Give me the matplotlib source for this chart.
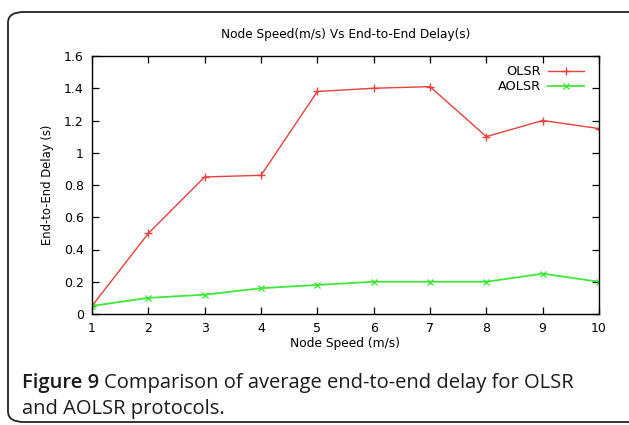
import matplotlib

matplotlib.use("Agg")
import matplotlib.pyplot as plt
from matplotlib.patches import FancyBboxPatch

plt.rcParams["font.family"] = ["DejaVu Sans"]

speed = [1, 2, 3, 4, 5, 6, 7, 8, 9, 10]
olsr = [0.05, 0.50, 0.85, 0.86, 1.38, 1.40, 1.41, 1.10, 1.20, 1.15]
aolsr = [0.05, 0.10, 0.12, 0.16, 0.18, 0.20, 0.20, 0.20, 0.25, 0.20]
yticks = [0, 0.2, 0.4, 0.6, 0.8, 1.0, 1.2, 1.4, 1.6]
ylabels = ["0", "0.2", "0.4", "0.6", "0.8", "1", "1.2", "1.4", "1.6"]

RED = "#e8403c"
GREEN = "#3ee83a"
CAPFONT = ["Open Sans", "DejaVu Sans"]

fig = plt.figure(figsize=(6.29, 4.25), dpi=100)
fig.patch.set_facecolor("white")

# rounded frame around figure + caption
frame = FancyBboxPatch((8 / 629, 3 / 425), 640 / 629, 410 / 425,
                       boxstyle="round,pad=0,rounding_size=0.025",
                       transform=fig.transFigure, fc="none", ec="#222222",
                       lw=1.3, zorder=-1)
fig.patches.append(frame)

ax = fig.add_axes([92 / 629, 1 - 314 / 425, 507 / 629, 258 / 425])
ax.plot(speed, olsr, color=RED, lw=1.0, marker="+", ms=6, mew=1.0, label="OLSR")
ax.plot(speed, aolsr, color=GREEN, lw=1.3, marker="x", ms=5, mew=1.0, label="AOLSR")

ax.set_xlim(1, 10)
ax.set_ylim(0, 1.6)
ax.set_xticks(speed)
ax.set_yticks(yticks)
ax.set_yticklabels(ylabels)
ax.tick_params(direction="in", top=True, right=True, length=5, width=0.9,
               labelsize=9, pad=6, colors="black")
for s in ax.spines.values():
    s.set_linewidth(1.0)

ax.set_title("Node Speed(m/s) Vs End-to-End Delay(s)", fontsize=8.7, pad=13)
ax.set_xlabel("Node Speed (m/s)", fontsize=8.8, labelpad=1)
ax.set_ylabel("End-to-End Delay (s)", fontsize=8.4, labelpad=7)

ax.legend(loc="upper right", bbox_to_anchor=(0.970, 0.965), markerfirst=False,
          frameon=False, fontsize=9.3, handlelength=2.8, borderaxespad=0,
          borderpad=0, labelspacing=0.18, handletextpad=0.55)

# caption
cap1 = fig.text(22 / 629, 1 - 383 / 425, "Figure 9", fontsize=14.5, fontweight="semibold",
                family=CAPFONT, va="center", color="#1a1a1a")
fig.canvas.draw()
bb = cap1.get_window_extent()
x2 = (bb.x1 + 5) / fig.bbox.width
fig.text(x2, 1 - 383 / 425, "Comparison of average end-to-end delay for OLSR",
         fontsize=14.5, family=CAPFONT, va="center", color="#1a1a1a")
fig.text(22 / 629, 1 - 409 / 425, "and AOLSR protocols.", fontsize=14.5,
         family=CAPFONT, va="center", color="#1a1a1a")

fig.savefig("out.png", dpi=100)
